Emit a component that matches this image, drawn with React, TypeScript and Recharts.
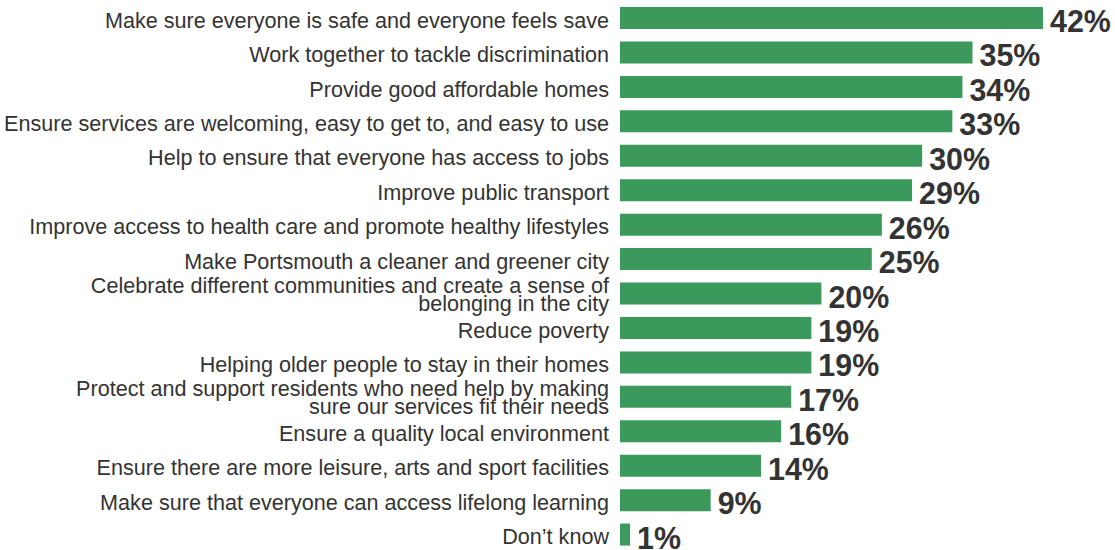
import React from "react";
import { BarChart, Bar, XAxis, YAxis, LabelList } from "recharts";

const categories = [
  "Make sure everyone is safe and everyone feels save",
  "Work together to tackle discrimination",
  "Provide good affordable homes",
  "Ensure services are welcoming, easy to get to, and easy to use",
  "Help to ensure that everyone has access to jobs",
  "Improve public transport",
  "Improve access to health care and promote healthy lifestyles",
  "Make Portsmouth a cleaner and greener city",
  "Celebrate different communities and create a sense of\nbelonging in the city",
  "Reduce poverty",
  "Helping older people to stay in their homes",
  "Protect and support residents who need help by making\nsure our services fit their needs",
  "Ensure a quality local environment",
  "Ensure there are more leisure, arts and sport facilities",
  "Make sure that everyone can access lifelong learning",
  "Don\u2019t know",
];

const values = [42, 35, 34, 33, 30, 29, 26, 25, 20, 19, 19, 17, 16, 14, 9, 1];

const data = categories.map((c, i) => ({ category: c, value: values[i] }));

const TEXT = "#333333";
const GREEN = "#3B9A5B";
const FONT = "'Liberation Sans', Arial, Helvetica, sans-serif";
const CAT_FS = 22.5;
const CAT_SX = 0.96;

const CategoryTick = (props: any) => {
  const { x, y, payload } = props;
  const lines = String(payload.value).split("\n");
  const lh = 17.7;
  const base = lines.length === 1 ? 9.5 : 8;
  const start = -((lines.length - 1) / 2) * lh + base;
  return (
    <text
      x={0}
      y={0}
      transform={`translate(${x + 1},${y}) scale(${CAT_SX},1)`}
      textAnchor="end"
      fill={TEXT}
      fontSize={CAT_FS}
      fontFamily={FONT}
    >
      {lines.map((l, i) => (
        <tspan key={i} x={0} dy={i === 0 ? start : lh}>
          {l}
        </tspan>
      ))}
    </text>
  );
};

const ValueLabel = (props: any) => {
  const { x, y, width, height, value } = props;
  const lx = Number(x) + Number(width) + 7;
  const ly = Number(y) + Number(height) / 2 + 14;
  return (
    <text
      x={0}
      y={0}
      transform={`translate(${lx},${ly}) scale(0.95,1)`}
      fill={TEXT}
      fontSize={32}
      fontWeight="bold"
      fontFamily={FONT}
    >
      {`${value}%`}
    </text>
  );
};

export default function App() {
  return (
    <div style={{ position: "absolute", left: 0, top: 0 }}>
      <BarChart
        width={1115}
        height={552}
        data={data}
        layout="vertical"
        margin={{ top: 1, right: 72, bottom: 0, left: 0 }}
        barCategoryGap={6}
      >
        <XAxis type="number" domain={[0, 42]} hide />
        <YAxis
          type="category"
          dataKey="category"
          width={620}
          axisLine={false}
          tickLine={false}
          tickSize={0}
          tickMargin={12}
          interval={0}
          tick={<CategoryTick />}
        />
        <Bar dataKey="value" fill={GREEN} barSize={22} isAnimationActive={false}>
          <LabelList dataKey="value" content={<ValueLabel />} />
        </Bar>
      </BarChart>
    </div>
  );
}
